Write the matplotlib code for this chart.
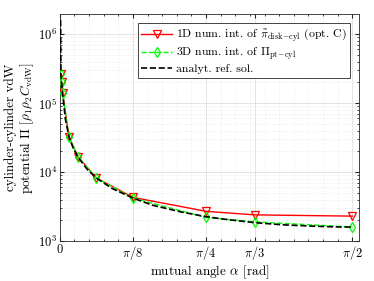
import numpy as np
import matplotlib
matplotlib.use("Agg")
import matplotlib.pyplot as plt
from matplotlib.ticker import MultipleLocator, FixedLocator, LogLocator, NullFormatter

plt.rcParams['font.family'] = 'serif'
plt.rcParams['font.serif'] = ['cmr10', 'DejaVu Serif']
plt.rcParams['mathtext.fontset'] = 'cm'
plt.rcParams['axes.formatter.use_mathtext'] = True

# angles [rad] of the numerical evaluations
alpha_num = [0.006, 0.009, 0.015, np.pi / 64, np.pi / 32, np.pi / 16,
             np.pi / 8, np.pi / 4, np.pi / 3, np.pi / 2]
# 1D numerical integration (opt. C)
pot_1d = [2.6e5, 2.0e5, 1.38e5, 3.2e4, 1.66e4, 8.2e3, 4.3e3, 2.7e3, 2.4e3, 2.3e3]
# 3D numerical integration
pot_3d = [2.6e5, 2.0e5, 1.38e5, 3.2e4, 1.66e4, 8.2e3, 4.2e3, 2.2e3, 1.9e3, 1.6e3]

# analytical reference solution
alpha_ref = [0.004, 0.005, 0.006, 0.009, 0.015, 0.03, np.pi / 64, 0.07, np.pi / 32,
             0.15, np.pi / 16, 0.28, np.pi / 8, 0.5, 0.65, np.pi / 4, 0.9,
             np.pi / 3, 1.2, 1.35, 1.5, np.pi / 2]
pot_ref = [1.6e6, 7.0e5, 2.6e5, 2.0e5, 1.38e5, 5.8e4, 3.26e4, 2.29e4, 1.63e4,
           1.07e4, 8.2e3, 5.8e3, 4.2e3, 3.3e3, 2.65e3, 2.26e3, 2.05e3,
           1.85e3, 1.72e3, 1.65e3, 1.6e3, 1.6e3]

xticks = [0, np.pi / 8, np.pi / 4, np.pi / 3, np.pi / 2]
xticklabels = ['0', r'$\pi/8$', r'$\pi/4$', r'$\pi/3$', r'$\pi/2$']

fig = plt.figure(figsize=(3.74, 2.81), dpi=100)
ax = fig.add_axes([0.160, 0.142, 0.800, 0.808])

ax.semilogy(alpha_num, pot_1d, '-', color='red', lw=1.0, marker='v', ms=5.5,
            mfc='none', mec='red', mew=0.9, zorder=3,
            label=r'1D num. int. of $\tilde{\pi}_{\rm disk\!-\!cyl}$ (opt. C)')
ax.semilogy(alpha_num, pot_3d, '--', color=(0, 1, 0), lw=1.0, marker='d', ms=5.5,
            mfc='none', mec=(0, 1, 0), mew=0.9, zorder=3,
            label=r'3D num. int. of $\Pi_{\rm pt\!-\!cyl}$')
ax.semilogy(alpha_ref, pot_ref, '--', color='black', lw=1.2, zorder=3,
            label='analyt. ref. sol.')

ax.set_xlim(0, 1.607)
ax.set_ylim(1e3, 1.95e6)

ax.xaxis.set_major_locator(FixedLocator(xticks))
ax.set_xticklabels(xticklabels)
ax.xaxis.set_minor_locator(MultipleLocator(np.pi / 40))
ax.yaxis.set_major_locator(LogLocator(base=10, numticks=10))
ax.yaxis.set_minor_locator(LogLocator(base=10, subs=np.arange(2, 10), numticks=10))
ax.yaxis.set_minor_formatter(NullFormatter())

ax.tick_params(which='both', direction='in', top=True, right=True, labelsize=9,
               color='#262626', pad=2)
ax.tick_params(which='major', length=3)
ax.tick_params(which='minor', length=1.5)
ax.grid(which='major', color='#d9d9d9', lw=0.5, ls='-')
ax.grid(which='minor', color='#e3e3e3', lw=0.5, ls=':')
for s in ax.spines.values():
    s.set_color('#262626')
    s.set_linewidth(0.6)

ax.set_xlabel(r'mutual angle $\alpha$ [rad]', fontsize=9.5, labelpad=1)
ax.set_ylabel('cylinder-cylinder vdW\n' + r'potential $\Pi$ $[\rho_1\rho_2 C_{\rm vdW}]$',
              fontsize=9.5, linespacing=1.1)
ax.yaxis.set_label_coords(-0.08, 0.5)

leg = ax.legend(loc='upper right', fontsize=8.5, fancybox=False, framealpha=1,
                edgecolor='#262626', borderpad=0.3, labelspacing=0.15,
                handlelength=2.6, handletextpad=0.3, borderaxespad=0.8)
leg.get_frame().set_linewidth(0.6)

fig.savefig('out.png', dpi=100)
